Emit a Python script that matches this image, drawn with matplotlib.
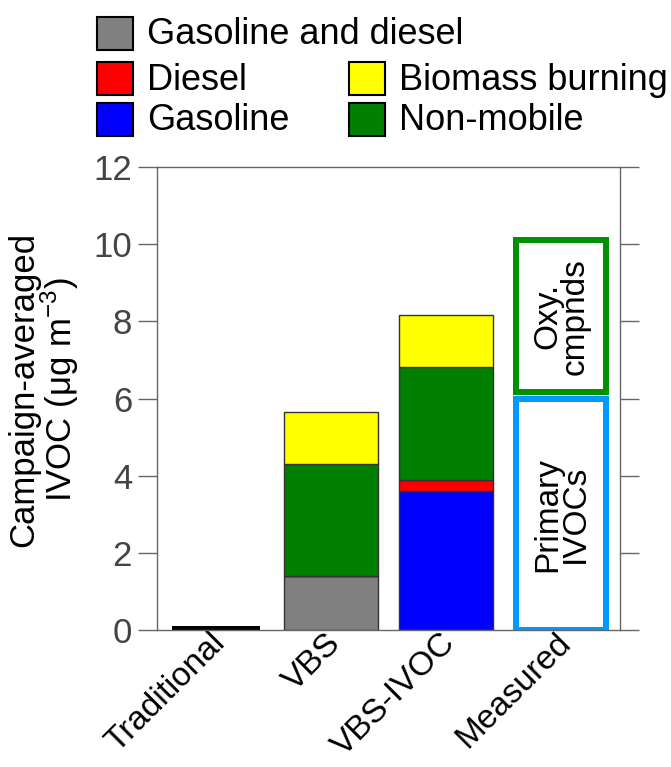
import matplotlib.pyplot as plt
from matplotlib.patches import Rectangle
from matplotlib.transforms import ScaledTranslation

plt.rcParams['font.family'] = ['Liberation Sans', 'DejaVu Sans']

# campaign-averaged IVOC (ug m-3)
categories = ['Traditional', 'VBS', 'VBS-IVOC', 'Measured']
traditional = 0.1
gas_and_diesel = [0, 1.4, 0, 0]
gasoline = [0, 0, 3.6, 0]
diesel = [0, 0, 0.29, 0]
non_mobile = [0, 2.9, 2.92, 0]
biomass = [0, 1.35, 1.35, 0]
measured_primary = 6.0
measured_oxy = 3.93

legend_items = [
    ('Gasoline and diesel', '#808080'),
    ('Diesel', '#ff0000'),
    ('Gasoline', '#0000ff'),
    ('Biomass burning', '#ffff00'),
    ('Non-mobile', '#007f00'),
]
colors = dict(legend_items)

fig = plt.figure(figsize=(6.71, 7.67), dpi=100)
ax = fig.add_axes([0.234, 0.1786, 0.69, 0.6036])

x = list(range(len(categories)))
w = 0.81
edge = dict(edgecolor='#333333', linewidth=1)

ax.bar(x[0], traditional, width=0.76, color='black')

bottom = [0.0] * 4
for vals, name in [(gas_and_diesel, 'Gasoline and diesel'), (gasoline, 'Gasoline'),
                   (diesel, 'Diesel'), (non_mobile, 'Non-mobile'),
                   (biomass, 'Biomass burning')]:
    ax.bar(x[1:3], vals[1:3], bottom=bottom[1:3], width=w, color=colors[name], **edge)
    bottom = [b + v for b, v in zip(bottom, vals)]

# measured boxes
gap = 0.17
ax.bar(x[3], measured_primary, width=0.78, fill=False, edgecolor='#0099ff', linewidth=4.3)
ax.bar(x[3], measured_oxy, bottom=measured_primary + gap, width=0.78, fill=False,
       edgecolor='#009000', linewidth=4.3)
ax.text(x[3], measured_primary / 2, 'Primary\nIVOCs', rotation=90, ha='center',
        va='center', fontsize=24, linespacing=0.85)
ax.text(x[3], measured_primary + gap + measured_oxy / 2, 'Oxy.\ncmpnds', rotation=90,
        ha='center', va='center', fontsize=24, linespacing=0.85)

ax.set_xlim(-0.51, 3.51)
ax.set_ylim(0, 12)
ax.set_yticks(range(0, 13, 2))
ax.set_xticks(x)
ax.set_xticklabels(categories, rotation=45, ha='right', va='center',
                   rotation_mode='anchor', fontsize=24)
ax.tick_params(axis='x', length=0, pad=6)
shift = ScaledTranslation(0.05, 0, fig.dpi_scale_trans)
for lab in ax.get_xticklabels():
    lab.set_transform(lab.get_transform() + shift)
ax.tick_params(axis='y', which='both', direction='out', length=14, width=1,
               right=True, labelsize=25, labelcolor='#444444', color='#666666', pad=4)
for s in ax.spines.values():
    s.set_color('#666666')
    s.set_linewidth(1)
ax.set_ylabel('Campaign-averaged\nIVOC (μg m$^{\\mathregular{-3}}$)', fontsize=25,
              linespacing=0.95)
ax.yaxis.set_label_coords(-0.165, 0.52)

# legend drawn by hand to keep the wide first row
W, H = 671, 767
def legend_box(px, py, label, color):
    fig.add_artist(Rectangle((px / W, 1 - (py + 33) / H), 36 / W, 33 / H,
                             transform=fig.transFigure, facecolor=color,
                             edgecolor='black', linewidth=1.5))
    fig.text((px + 50) / W, 1 - (py + 18) / H, label, fontsize=26, va='center')

legend_box(97, 17, *legend_items[0])
legend_box(97, 62, *legend_items[1])
legend_box(97, 103, *legend_items[2])
legend_box(349, 62, *legend_items[3])
legend_box(349, 103, *legend_items[4])

fig.savefig('out.png', dpi=100)
